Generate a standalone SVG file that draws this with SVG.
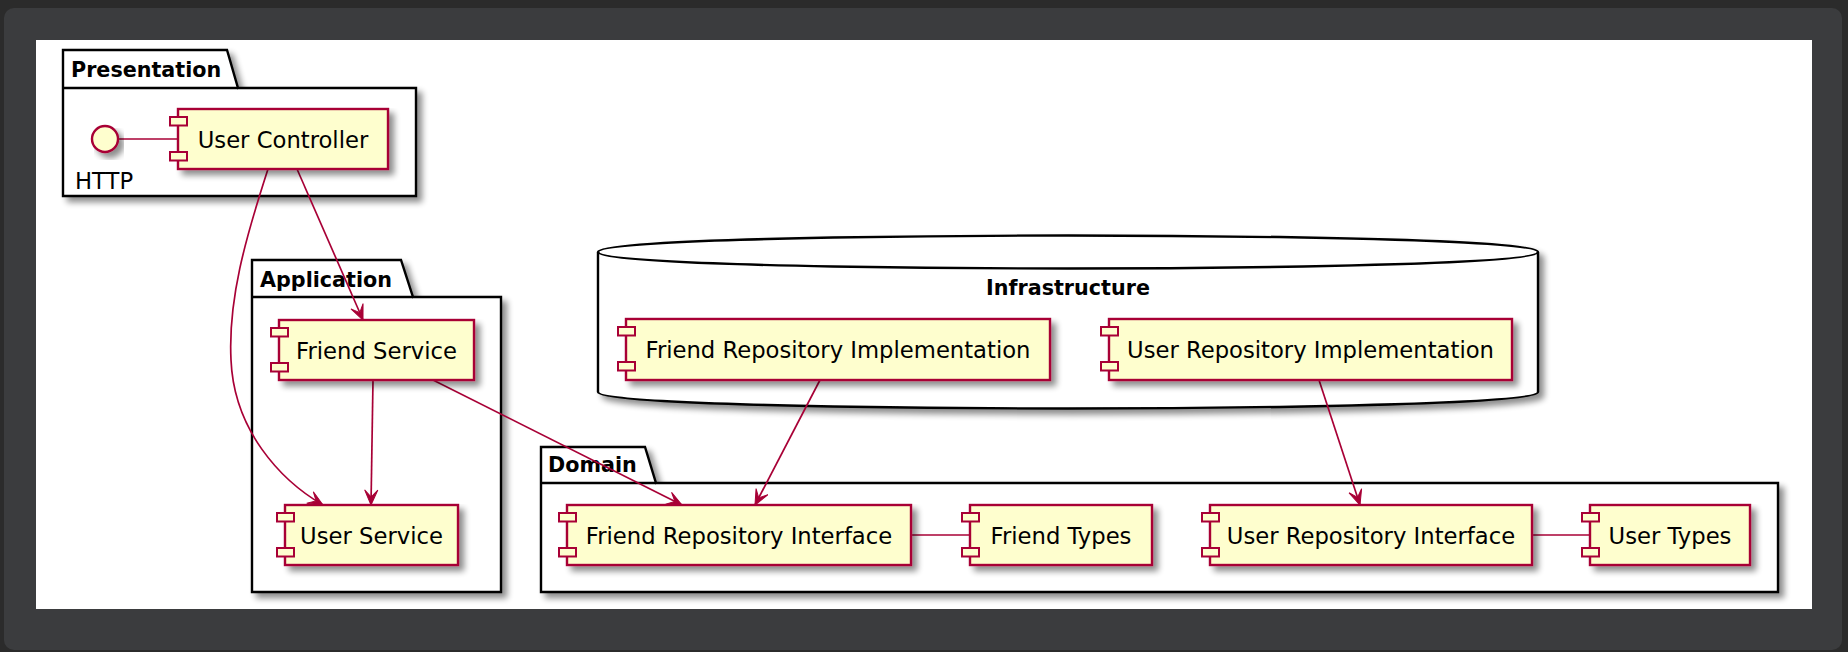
<svg xmlns="http://www.w3.org/2000/svg" width="1848" height="652" viewBox="0 0 1848 652">
<defs>
<filter id="sh" x="-10%" y="-10%" width="130%" height="140%">
<feGaussianBlur in="SourceAlpha" stdDeviation="3"/>
<feOffset dx="5" dy="5" result="b"/>
<feComponentTransfer><feFuncA type="linear" slope="0.45"/></feComponentTransfer>
<feMerge><feMergeNode/><feMergeNode in="SourceGraphic"/></feMerge>
</filter>
<marker id="arr" viewBox="0 0 17 16" markerWidth="17" markerHeight="16" refX="16" refY="8" orient="auto" markerUnits="userSpaceOnUse">
<path d="M16,8 L1,1.4 L8,8 L1,14.6 Z" fill="#A80036" stroke="#A80036" stroke-width="1"/>
</marker>
</defs>
<style>
.pkg{fill:#FFFFFF;stroke:#000000;stroke-width:2.4;filter:url(#sh)}
.tabline{fill:none;stroke:#000000;stroke-width:2.4}
.ptitle{font-family:"DejaVu Sans",Verdana,sans-serif;font-weight:bold;font-size:20.7px;fill:#000000}
.comp{fill:#FEFECE;stroke:#A80036;stroke-width:2.4;filter:url(#sh)}
.port{fill:#FEFECE;stroke:#A80036;stroke-width:2}
.ctext{font-family:"DejaVu Sans",Verdana,sans-serif;font-size:22.7px;fill:#000000;text-anchor:middle}
.edge{fill:none;stroke:#A80036;stroke-width:1.7}
.arrow{marker-end:url(#arr)}
</style>
<rect x="0" y="0" width="1848" height="652" fill="#2b2b2b"/>
<rect x="4" y="8" width="1838" height="642" rx="10" ry="10" fill="#3b3c3e"/>
<rect x="36" y="40" width="1776" height="569" fill="#FFFFFF"/>

<g id="pkg-presentation">
<path class="pkg" d="M63,88 L63,50 L227,50 L238,88 L416,88 L416,196 L63,196 Z"/>
<path class="tabline" d="M63,88 L238,88"/>
<text class="ptitle" x="71" y="77">Presentation</text>
</g>
<g id="pkg-application">
<path class="pkg" d="M252,297 L252,260 L401,260 L413,297 L501,297 L501,592 L252,592 Z"/>
<path class="tabline" d="M252,297 L413,297"/>
<text class="ptitle" x="260" y="287">Application</text>
</g>
<g id="pkg-infrastructure">
<path class="pkg" d="M598,252 C598,235.5 1068,235.5 1068,235.5 C1068,235.5 1538,235.5 1538,252 L1538,392 C1538,408.5 1068,408.5 1068,408.5 C1068,408.5 598,408.5 598,392 Z"/>
<path class="tabline" d="M598,252 C598,268.5 1068,268.5 1068,268.5 C1068,268.5 1538,268.5 1538,252"/>
<text class="ptitle" x="1068" y="295" text-anchor="middle">Infrastructure</text>
</g>
<g id="pkg-domain">
<path class="pkg" d="M541,483 L541,447 L645,447 L656,483 L1778,483 L1778,592 L541,592 Z"/>
<path class="tabline" d="M541,483 L656,483"/>
<text class="ptitle" x="548" y="472">Domain</text>
</g>

<g id="connectors">
<path class="edge" d="M118,139 L178,139"/>
<path class="edge arrow" d="M297,169 L363,320"/>
<path class="edge arrow" d="M268,169 C245,240 228,300 231,360 C234,430 280,480 323,505"/>
<path class="edge arrow" d="M373,380 L371,505"/>
<path class="edge arrow" d="M433,380 L682,505"/>
<path class="edge arrow" d="M820,380 L755,505"/>
<path class="edge arrow" d="M1319,380 L1360,505"/>
<path class="edge" d="M911,535 L970,535"/>
<path class="edge" d="M1532,535 L1590,535"/>
</g>

<g id="http">
<circle cx="105" cy="139" r="13" fill="#FEFECE" stroke="#A80036" stroke-width="2.4" filter="url(#sh)"/>
<text x="75" y="189" font-family="DejaVu Sans, Verdana, sans-serif" font-size="22.7px" fill="#000000">HTTP</text>
</g>

<g id="user-controller">
<rect class="comp" x="178" y="109" width="210" height="60"/>
<rect class="port" x="170" y="117" width="17" height="8.5"/>
<rect class="port" x="170" y="152" width="17" height="8.5"/>
<text class="ctext" x="283" y="148">User Controller</text>
</g>
<g id="friend-service">
<rect class="comp" x="279" y="320" width="195" height="60"/>
<rect class="port" x="271" y="328" width="17" height="8.5"/>
<rect class="port" x="271" y="363" width="17" height="8.5"/>
<text class="ctext" x="376.5" y="359">Friend Service</text>
</g>
<g id="user-service">
<rect class="comp" x="285" y="505" width="173" height="60"/>
<rect class="port" x="277" y="513" width="17" height="8.5"/>
<rect class="port" x="277" y="548" width="17" height="8.5"/>
<text class="ctext" x="371.5" y="544">User Service</text>
</g>
<g id="friend-repository-implementation">
<rect class="comp" x="626" y="319" width="424" height="61"/>
<rect class="port" x="618" y="327" width="17" height="8.5"/>
<rect class="port" x="618" y="362" width="17" height="8.5"/>
<text class="ctext" x="838" y="358">Friend Repository Implementation</text>
</g>
<g id="user-repository-implementation">
<rect class="comp" x="1109" y="319" width="403" height="61"/>
<rect class="port" x="1101" y="327" width="17" height="8.5"/>
<rect class="port" x="1101" y="362" width="17" height="8.5"/>
<text class="ctext" x="1310.5" y="358">User Repository Implementation</text>
</g>
<g id="friend-repository-interface">
<rect class="comp" x="567" y="505" width="344" height="60"/>
<rect class="port" x="559" y="513" width="17" height="8.5"/>
<rect class="port" x="559" y="548" width="17" height="8.5"/>
<text class="ctext" x="739" y="544">Friend Repository Interface</text>
</g>
<g id="friend-types">
<rect class="comp" x="970" y="505" width="182" height="60"/>
<rect class="port" x="962" y="513" width="17" height="8.5"/>
<rect class="port" x="962" y="548" width="17" height="8.5"/>
<text class="ctext" x="1061" y="544">Friend Types</text>
</g>
<g id="user-repository-interface">
<rect class="comp" x="1210" y="505" width="322" height="60"/>
<rect class="port" x="1202" y="513" width="17" height="8.5"/>
<rect class="port" x="1202" y="548" width="17" height="8.5"/>
<text class="ctext" x="1371" y="544">User Repository Interface</text>
</g>
<g id="user-types">
<rect class="comp" x="1590" y="505" width="160" height="60"/>
<rect class="port" x="1582" y="513" width="17" height="8.5"/>
<rect class="port" x="1582" y="548" width="17" height="8.5"/>
<text class="ctext" x="1670" y="544">User Types</text>
</g>
</svg>
